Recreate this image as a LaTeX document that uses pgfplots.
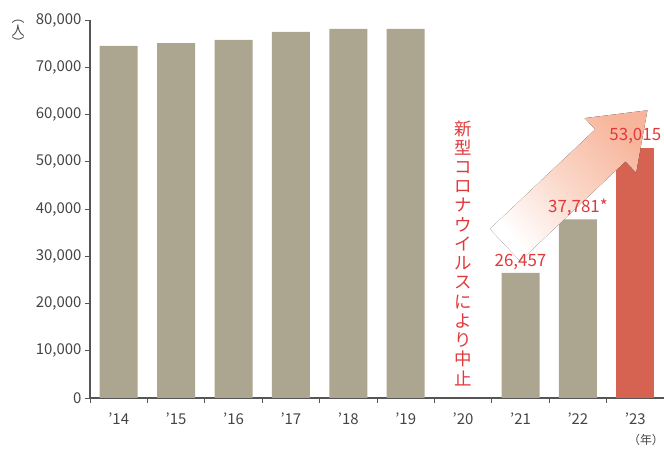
\documentclass[border=0pt]{standalone}
\usepackage{pgfplots}
\pgfplotsset{compat=1.18}
\usepackage{fontspec}
\setmainfont{Noto Sans CJK JP}
\definecolor{barg}{HTML}{ACA58F}
\definecolor{barr}{HTML}{D66252}
\definecolor{lblr}{HTML}{E0393B}
\definecolor{axg}{HTML}{555555}
\definecolor{txg}{HTML}{444444}
\definecolor{arr}{HTML}{F7B69C}
\begin{document}
\begin{tikzpicture}
\useasboundingbox (-90bp,-52bp) rectangle (574bp,398bp);
\begin{axis}[
  scale only axis, width=574bp, height=378bp,
  xmin=-0.5, xmax=9.5, ymin=0, ymax=80000,
  axis x line*=bottom, axis y line*=left,
  axis line style={axg, line width=1.2bp},
  tick style={axg, line width=1bp},
  tick align=outside, major tick length=5bp,
  ybar, bar width=38bp,
  ytick={0,10000,...,80000}, scaled y ticks=false,
  yticklabel style={/pgf/number format/.cd, 1000 sep={,}, assume math mode=true},
  xtick={-0.5,0.5,...,8.5}, xticklabels={},
  extra x ticks={0,...,9},
  extra x tick labels={'14,'15,'16,'17,'18,'19,'20,'21,'22,'23},
  extra x tick style={major tick length=0pt},
  ticklabel style={font=\fontsize{15}{18}\selectfont, text=txg},
  xticklabel style={yshift=-11bp},
]
\addplot[fill=barg, draw=none, bar shift=0pt] coordinates {
  (0,74500) (1,75100) (2,75800) (3,77500) (4,78100) (5,78100) (7,26457) (8,37781)};
\addplot[fill=barr, draw=none, bar shift=0pt] coordinates {(9,53015)};
\fill[draw=none, top color=arr, bottom color=white, middle color=arr!55!white, shading angle=-46.6]
  (axis cs:6.993,28997) -- (axis cs:8.829,50082) -- (axis cs:9.014,47699)
  -- (axis cs:9.211,60883) -- (axis cs:8.117,59234) -- (axis cs:8.302,56851)
  -- (axis cs:6.467,35765) -- cycle;
\addplot[draw=none, mark=none, bar shift=0pt, nodes near coords, point meta=explicit symbolic,
  nodes near coords style={font=\fontsize{17}{19}\selectfont, text=lblr, anchor=south, yshift=0bp}]
  coordinates {(7,26457)[26,457] (8,37781)[37,781*] (9,53015)[53,015]};
\node[text=lblr, font=\fontsize{17.5}{19.3}\selectfont, align=center, inner sep=0pt]
  at (axis cs:6,30690) {新\\型\\コ\\ロ\\ナ\\ウ\\イ\\ル\\ス\\に\\よ\\り\\中\\止};
\end{axis}
\node[text=txg, font=\fontsize{13}{10}\selectfont, align=center, inner sep=0pt] at (-72bp,364bp) {︵\\人\\︶};
\node[text=txg, font=\fontsize{12}{14}\selectfont, inner sep=0pt] at (556bp,-42bp) {（年）};
\end{tikzpicture}
\end{document}
